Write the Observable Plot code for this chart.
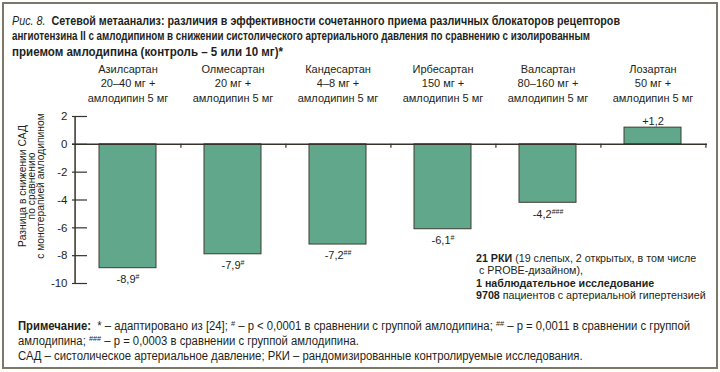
<!DOCTYPE html>
<html><head><meta charset="utf-8">
<script src="https://cdn.jsdelivr.net/npm/d3@7"></script>
<script src="https://cdn.jsdelivr.net/npm/@observablehq/plot@0.6"></script>
<style>
html,body{margin:0;padding:0;background:#fff;}
#wrap{position:relative;width:720px;height:372px;overflow:hidden;background:#fff;color:#231f20;font-family:"Liberation Sans",Arial,sans-serif;}
#frame{position:absolute;left:2px;top:2px;width:712px;height:363px;border:2px solid #7b7866;}
.fit{position:absolute;left:0;top:0;transform-origin:0 0;white-space:nowrap;font-family:"Liberation Sans Narrow","Liberation Sans",Arial,sans-serif;}
.fit sup{font-size:65%;vertical-align:0;position:relative;top:-0.45em;line-height:0;}
#chart{position:absolute;left:0;top:60px;}
#ylab{position:absolute;left:32px;top:186px;width:220px;margin-left:-110px;text-align:center;transform:translateY(-50%) rotate(-90deg);transform-origin:50% 50%;font-size:10.3px;line-height:9.2px;white-space:nowrap;}
#note div{position:absolute;left:476px;font-size:10.7px;line-height:12px;white-space:pre;}
</style></head>
<body><div id="wrap">
<div id="frame"></div>
<div id="title"></div>
<div id="chart"></div>
<div id="ylab"></div>
<div id="note"></div>
<div id="foot"></div>
</div>
<script>
// ---- data ----
const drugs = ["Азилсартан", "Олмесартан", "Кандесартан", "Ирбесартан", "Валсартан", "Лозартан"];
const doses = ["20–40 мг +", "20 мг +", "4–8 мг +", "150 мг +", "80–160 мг +", "50 мг +"];
const combo = "амлодипин 5 мг";
const diffs = [-8.9, -7.9, -7.2, -6.1, -4.2, 1.2];
const sig = ["#", "#", "##", "#", "###", ""];
const yTicks = [2, 0, -2, -4, -6, -8, -10];
const yDomain = [-10, 2];
const yLabelLines = ["Разница в снижении САД", "по сравнению", "с монотерапией амлодипином"];
const titleLines = [
  '<i style="font-weight:normal">Рис. 8.</i>&nbsp; <b>Сетевой метаанализ: различия в эффективности сочетанного приема различных блокаторов рецепторов</b>',
  '<b>ангиотензина II с амлодипином в снижении систолического артериального давления по сравнению с изолированным</b>',
  '<b>приемом амлодипина (контроль – 5 или 10 мг)*</b>'
];
const footLines = [
  '<b>Примечание:</b>&nbsp; * – адаптировано из [24]; <sup>#</sup> – р &lt; 0,0001 в сравнении с группой амлодипина; <sup>##</sup> – р = 0,0011 в сравнении с группой',
  'амлодипина; <sup>###</sup> – р = 0,0003 в сравнении с группой амлодипина.',
  'САД – систолическое артериальное давление; РКИ – рандомизированные контролируемые исследования.'
];
const noteLines = [
  '<b>21 РКИ</b> (19 слепых, 2 открытых, в том числе',
  ' с PROBE-дизайном),',
  '<b>1 наблюдательное исследование</b>',
  '<b>9708</b> пациентов с артериальной гипертензией'
];

const fmt = v => (v > 0 ? "+" : "-") + Math.abs(v).toFixed(1).replace(".", ",");
const data = drugs.map((d, i) => ({
  drug: d,
  label: `${d}\n${doses[i]}\n${combo}`,
  v: diffs[i],
  text: fmt(diffs[i]) + sig[i]
}));

// ---- chart ----
const W = 720, mL = 72, mR = 13;
const bw = (W - mL - mR) / drugs.length;
const ink = "#34322a";

const plot = Plot.plot({
  width: W, height: 250,
  marginLeft: mL, marginRight: mR, marginTop: 56, marginBottom: 27,
  style: {fontFamily: '"Liberation Sans", Arial, sans-serif', fontSize: "11px", color: "#231f20", background: "transparent"},
  x: {type: "band", domain: drugs, padding: 0, axis: null},
  y: {domain: yDomain, axis: null},
  marks: [
    Plot.barY(data, {x: "drug", y: "v", fill: "#60a78b", stroke: "#3e3c30", strokeWidth: 1, insetLeft: 24, insetRight: 24}),
    Plot.ruleY([0], {stroke: ink, strokeWidth: 1.5}),
    Plot.ruleX(drugs, {x: d => d, y1: 0, y2: 0, insetBottom: -4, dx: bw / 2, stroke: ink, strokeWidth: 1.2}),
    Plot.ruleX([drugs[0]], {x: d => d, dx: -bw / 2, stroke: ink, strokeWidth: 1.5}),
    Plot.ruleY(yTicks, {y: d => d, insetRight: W - mL - mR - 15, stroke: ink, strokeWidth: 1.2}),
    Plot.axisY(yTicks, {anchor: "left", tickSize: 0, tickPadding: 5, tickFormat: d => String(d), label: null, fontSize: 11.5, fill: "#231f20"}),
    Plot.text(data, {x: "drug", text: "label", frameAnchor: "top", lineAnchor: "bottom", dy: -14.5, lineHeight: 1.33, fontSize: 11, fill: "#231f20"}),
    Plot.text(data.filter(d => d.v < 0), {x: "drug", y: "v", text: "text", lineAnchor: "top", dy: 7, fontSize: 11, fill: "#231f20"}),
    Plot.text(data.filter(d => d.v > 0), {x: "drug", y: "v", text: "text", lineAnchor: "bottom", dy: -3, fontSize: 11, fill: "#231f20"})
  ]
});
document.getElementById("chart").appendChild(plot);

// superscript significance marks
d3.select(plot).selectAll("text").each(function() {
  const el = d3.select(this);
  if (el.selectAll("tspan").size()) return;
  const m = /^([-+][\d,]+)(#+)$/.exec(el.text());
  if (!m) return;
  el.text(null);
  el.append("tspan").text(m[1]);
  el.append("tspan").attr("font-size", 7).attr("dy", -4).text(m[2]);
});

// ---- texts ----
document.getElementById("ylab").innerHTML = yLabelLines.join("<br>");
const noteBox = document.getElementById("note");
noteLines.forEach((h, i) => {
  const d = document.createElement("div");
  d.style.top = (252 + i * 12.4) + "px";
  d.innerHTML = h;
  noteBox.appendChild(d);
});

// horizontal fit: per-line targets (ends) or one scale from the first line (ends = [first])
function addLines(container, lines, left, top0, step, ends, size) {
  let k = 1;
  lines.forEach((h, i) => {
    const s = document.createElement("span");
    s.className = "fit";
    s.style.left = left + "px";
    s.style.top = (top0 + i * step) + "px";
    s.style.fontSize = size + "px";
    s.style.lineHeight = Math.round(size * 1.15) + "px";
    s.innerHTML = h;
    container.appendChild(s);
    if (i < ends.length) k = (ends[i] - left) / s.getBoundingClientRect().width;
    s.style.transform = `scaleX(${k})`;
  });
}
addLines(document.getElementById("title"), titleLines, 12, 12.5, 15.5, [620, 590, 283], 13);
addLines(document.getElementById("foot"), footLines, 18, 318.5, 15, [690], 12);
</script>
</body></html>
